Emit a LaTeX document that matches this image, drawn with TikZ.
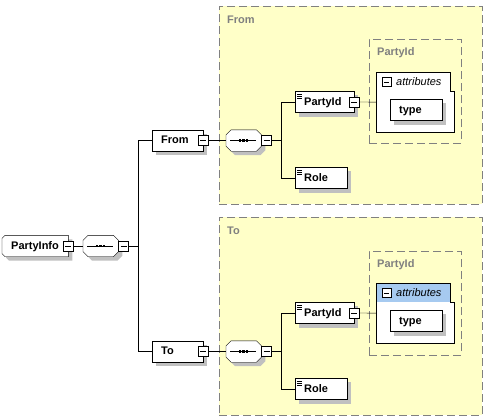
\documentclass[tikz,border=0pt]{standalone}
\usepackage{fontspec}
\setmainfont{Liberation Sans}

\definecolor{groupfill}{RGB}{255,255,200}
\definecolor{groupline}{RGB}{128,128,128}
\definecolor{attrhead}{RGB}{166,202,240}
\definecolor{shadowgray}{RGB}{192,192,192}

\pgfdeclarelayer{back}
\pgfsetlayers{back,main}

\tikzstyle{element}=[draw, fill=white, anchor=west, minimum height=21pt,
  inner xsep=9pt, inner ysep=0pt, text height=8pt, text depth=2pt, align=left, font=\bfseries]
\tikzstyle{docelement}=[element, path picture={\foreach \dy in {2.5pt,4.5pt,6.5pt}
  \draw ([shift={(2pt,-\dy)}]path picture bounding box.north west) -- ++(5,0);}]
\tikzstyle{sequence}=[anchor=west, minimum width=35pt, minimum height=21pt, inner sep=0pt]
\tikzstyle{minus}=[draw, fill=white, minimum size=10pt, inner sep=0pt,
  path picture={\draw ([xshift=2pt]path picture bounding box.west) --
    ([xshift=-2pt]path picture bounding box.east);}]
\tikzstyle{groupbox}=[draw=groupline, dash pattern=on 8pt off 4pt, anchor=north west, inner sep=0pt]
\tikzstyle{grouplabel}=[text=groupline, font=\bfseries, anchor=west, inner sep=0pt]
\tikzstyle{attrbox}=[anchor=north west, minimum width=78pt, minimum height=60pt, inner sep=0pt]
\tikzstyle{attrlabel}=[font=\itshape, anchor=west, inner sep=0pt]

\begin{document}
\fontsize{11pt}{13pt}\selectfont
\begin{tikzpicture}[x=1pt, y=-1pt, line width=1pt]
\useasboundingbox (0,0) rectangle (486,418);
%
\begin{pgfonlayer}{back}
\draw (219,6) node[groupbox, fill=groupfill, minimum width=263pt, minimum height=198pt](fromgroup){};
\draw (369,39) node[groupbox, minimum width=92pt, minimum height=104pt](fromidgroup){};
\draw (219,217) node[groupbox, fill=groupfill, minimum width=263pt, minimum height=198pt](togroup){};
\draw (369,251) node[groupbox, minimum width=92pt, minimum height=104pt](toidgroup){};
\end{pgfonlayer}
\draw (227,20) node[grouplabel](fromgrouplabel){From};
\draw (377,53) node[grouplabel](fromidgrouplabel){PartyId};
\draw (227,231) node[grouplabel](togrouplabel){To};
\draw (377,265) node[grouplabel](toidgrouplabel){PartyId};
%
\draw (2,246) node[element, draw=none, fill=none, text width=48pt](partyinfo){PartyInfo};
\draw (partyinfo.east) node[minus](partyinfominus){};
\draw (83,246) node[sequence](mainseq){};
\draw (mainseq.east) node[minus, anchor=west](mainseqminus){};
\draw (partyinfominus) -- (mainseq);
\draw (mainseqminus.east) -- ++(9,0) coordinate(mainfork);
%
\draw (152,140.5) node[element, text width=33pt](from){From};
\draw (from.east) node[minus](fromminus){};
\draw (mainfork) |- (from);
\draw (226,140.5) node[sequence](fromseq){};
\draw (fromseq.east) node[minus, anchor=west](fromseqminus){};
\draw (fromminus) -- (fromseq);
\draw (fromseqminus.east) -- ++(9,0) coordinate(fromfork);
%
\draw (295,102) node[docelement, text width=41pt](fromid){PartyId};
\draw (fromid.east) node[minus](fromidminus){};
\draw (295,178) node[docelement, text width=34pt](fromrole){Role};
\draw (fromfork) |- (fromid);
\draw (fromfork) |- (fromrole);
%
\draw (376,72) node[attrbox](fromattr){};
\draw (386.5,82) node[minus, minimum size=9pt](fromattrminus){};
\draw (396,82) node[attrlabel](fromattrlabel){attributes};
\draw (390,110) node[element, text width=34pt](fromtype){type};
\draw (fromidminus) -- (fromattr);
%
\draw (152,351.5) node[element, text width=33pt](to){To};
\draw (to.east) node[minus](tominus){};
\draw (mainfork) |- (to);
\draw (226,351.5) node[sequence](toseq){};
\draw (toseq.east) node[minus, anchor=west](toseqminus){};
\draw (tominus) -- (toseq);
\draw (toseqminus.east) -- ++(9,0) coordinate(tofork);
%
\draw (295,313) node[docelement, text width=41pt](toid){PartyId};
\draw (toid.east) node[minus](toidminus){};
\draw (295,389) node[docelement, text width=34pt](torole){Role};
\draw (tofork) |- (toid);
\draw (tofork) |- (torole);
%
\draw (376,283) node[attrbox](toattr){};
\fill[attrhead] ([shift={(0.5pt,-0.5pt)}]toattr.north west) rectangle
  ([shift={(-4.5pt,-19pt)}]toattr.north east);
\draw (386.5,293) node[minus, minimum size=9pt](toattrminus){};
\draw (396,293) node[attrlabel](toattrlabel){attributes};
\draw (390,321) node[element, text width=34pt](totype){type};
\draw (toidminus) -- (toattr);
%
% sequence symbols
\foreach \s in {mainseq, fromseq, toseq} {
  \draw ([xshift=4pt]\s.west) -- ([xshift=-5pt]\s.east);
  \foreach \dx in {-3.5pt,0pt,3.5pt}
    \fill ([xshift=\dx]\s.center) +(-1.25,-1.25) rectangle +(1.25,1.25);
}
%
% outlines and shadows behind the nodes
\begin{pgfonlayer}{back}
\foreach \a in {fromattr, toattr}
  \draw[fill=white] (\a.north west) -- ([xshift=-4pt]\a.north east) -- ++(0,19)
    -- ++(4,0) |- (\a.south west) -- cycle;
\foreach \n in {from, to, fromid, fromrole, fromtype, toid, torole, totype}
  \fill[shadowgray] ([shift={(4pt,-4pt)}]\n.north west) rectangle ([shift={(4pt,-4pt)}]\n.south east);
\fill[shadowgray] ([shift={(7pt,-4pt)}]partyinfo.north west) -- ([shift={(4pt,-4pt)}]partyinfo.north east)
  -- ([shift={(4pt,-4pt)}]partyinfo.south east) -- ([shift={(7pt,-4pt)}]partyinfo.south west)
  -- ([shift={(4pt,-1pt)}]partyinfo.south west) -- ([shift={(4pt,-7pt)}]partyinfo.north west) -- cycle;
\draw[fill=white] ([xshift=3pt]partyinfo.north west) -- (partyinfo.north east)
  -- (partyinfo.south east) -- ([xshift=3pt]partyinfo.south west)
  -- ([yshift=3pt]partyinfo.south west) -- ([yshift=-3pt]partyinfo.north west) -- cycle;
\foreach \s in {mainseq, fromseq, toseq} {
  \fill[shadowgray] ([shift={(9pt,-4pt)}]\s.north west) -- ([shift={(-1pt,-4pt)}]\s.north east)
    -- ([shift={(4pt,-9pt)}]\s.north east) -- ([shift={(4pt,1pt)}]\s.south east)
    -- ([shift={(-1pt,-4pt)}]\s.south east) -- ([shift={(9pt,-4pt)}]\s.south west)
    -- ([shift={(4pt,1pt)}]\s.south west) -- ([shift={(4pt,-9pt)}]\s.north west) -- cycle;
  \draw[fill=white] ([xshift=5pt]\s.north west) -- ([xshift=-5pt]\s.north east)
    -- ([yshift=-5pt]\s.north east) -- ([yshift=5pt]\s.south east)
    -- ([xshift=-5pt]\s.south east) -- ([xshift=5pt]\s.south west)
    -- ([yshift=5pt]\s.south west) -- ([yshift=-5pt]\s.north west) -- cycle;
}
\end{pgfonlayer}
\end{tikzpicture}
\end{document}
